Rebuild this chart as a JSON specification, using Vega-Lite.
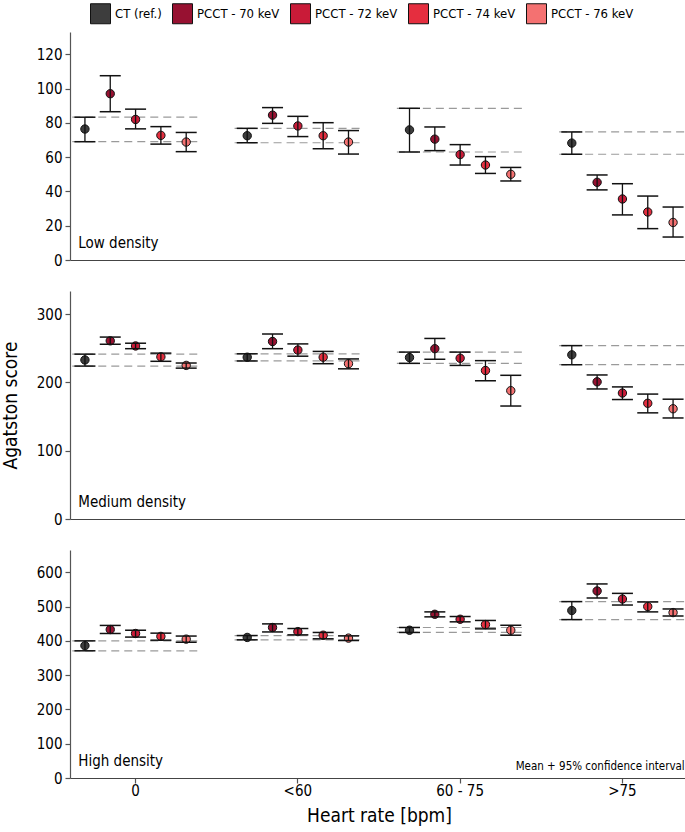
{
  "$schema": "https://vega.github.io/schema/vega-lite/v6.json",
  "padding": {"left": 1, "top": 3, "right": 0, "bottom": 4},
  "background": "white",
  "datasets": {
    "scores": [
      {"d": "Low", "hr": "0", "s": "CT (ref.)", "m": 76.4, "lo": 69, "hi": 83.3},
      {"d": "Low", "hr": "0", "s": "PCCT - 70 keV", "m": 97, "lo": 86.5, "hi": 107.5},
      {"d": "Low", "hr": "0", "s": "PCCT - 72 keV", "m": 82, "lo": 76.5, "hi": 88},
      {"d": "Low", "hr": "0", "s": "PCCT - 74 keV", "m": 72.7, "lo": 67.6, "hi": 77.8},
      {"d": "Low", "hr": "0", "s": "PCCT - 76 keV", "m": 68.8, "lo": 63.2, "hi": 74.4},
      {"d": "Low", "hr": "<60", "s": "CT (ref.)", "m": 72.5, "lo": 68.4, "hi": 76.8},
      {"d": "Low", "hr": "<60", "s": "PCCT - 70 keV", "m": 84.5, "lo": 79.7, "hi": 88.9},
      {"d": "Low", "hr": "<60", "s": "PCCT - 72 keV", "m": 78.2, "lo": 72, "hi": 83.8},
      {"d": "Low", "hr": "<60", "s": "PCCT - 74 keV", "m": 72.5, "lo": 64.9, "hi": 80.1},
      {"d": "Low", "hr": "<60", "s": "PCCT - 76 keV", "m": 68.8, "lo": 61.8, "hi": 75.5},
      {"d": "Low", "hr": "60 - 75", "s": "CT (ref.)", "m": 75.9, "lo": 63, "hi": 88.5},
      {"d": "Low", "hr": "60 - 75", "s": "PCCT - 70 keV", "m": 70.5, "lo": 63.8, "hi": 77.6},
      {"d": "Low", "hr": "60 - 75", "s": "PCCT - 72 keV", "m": 61.5, "lo": 55.4, "hi": 67.3},
      {"d": "Low", "hr": "60 - 75", "s": "PCCT - 74 keV", "m": 55.4, "lo": 50.5, "hi": 60.3},
      {"d": "Low", "hr": "60 - 75", "s": "PCCT - 76 keV", "m": 50, "lo": 46.1, "hi": 54},
      {"d": "Low", "hr": ">75", "s": "CT (ref.)", "m": 68.2, "lo": 61.7, "hi": 74.7},
      {"d": "Low", "hr": ">75", "s": "PCCT - 70 keV", "m": 45.3, "lo": 40.9, "hi": 49.6},
      {"d": "Low", "hr": ">75", "s": "PCCT - 72 keV", "m": 35.6, "lo": 26.3, "hi": 44.5},
      {"d": "Low", "hr": ">75", "s": "PCCT - 74 keV", "m": 28, "lo": 18.3, "hi": 37.3},
      {"d": "Low", "hr": ">75", "s": "PCCT - 76 keV", "m": 21.9, "lo": 13.4, "hi": 30.9},
      {"d": "Medium", "hr": "0", "s": "CT (ref.)", "m": 233, "lo": 224, "hi": 241.5},
      {"d": "Medium", "hr": "0", "s": "PCCT - 70 keV", "m": 261, "lo": 256, "hi": 266.5},
      {"d": "Medium", "hr": "0", "s": "PCCT - 72 keV", "m": 253.5, "lo": 249.5, "hi": 257.5},
      {"d": "Medium", "hr": "0", "s": "PCCT - 74 keV", "m": 237.5, "lo": 231, "hi": 243},
      {"d": "Medium", "hr": "0", "s": "PCCT - 76 keV", "m": 225, "lo": 221, "hi": 228.5},
      {"d": "Medium", "hr": "<60", "s": "CT (ref.)", "m": 237, "lo": 231.5, "hi": 242},
      {"d": "Medium", "hr": "<60", "s": "PCCT - 70 keV", "m": 260, "lo": 249.5, "hi": 271},
      {"d": "Medium", "hr": "<60", "s": "PCCT - 72 keV", "m": 247.5, "lo": 238.5, "hi": 256.5},
      {"d": "Medium", "hr": "<60", "s": "PCCT - 74 keV", "m": 237, "lo": 227.5, "hi": 245.5},
      {"d": "Medium", "hr": "<60", "s": "PCCT - 76 keV", "m": 227.5, "lo": 220, "hi": 234.5},
      {"d": "Medium", "hr": "60 - 75", "s": "CT (ref.)", "m": 236.5, "lo": 228, "hi": 244.5},
      {"d": "Medium", "hr": "60 - 75", "s": "PCCT - 70 keV", "m": 249.5, "lo": 234, "hi": 264.5},
      {"d": "Medium", "hr": "60 - 75", "s": "PCCT - 72 keV", "m": 235.5, "lo": 225, "hi": 244.5},
      {"d": "Medium", "hr": "60 - 75", "s": "PCCT - 74 keV", "m": 217.5, "lo": 202.5, "hi": 232},
      {"d": "Medium", "hr": "60 - 75", "s": "PCCT - 76 keV", "m": 188, "lo": 165.5, "hi": 210.5},
      {"d": "Medium", "hr": ">75", "s": "CT (ref.)", "m": 240.5, "lo": 226, "hi": 254},
      {"d": "Medium", "hr": ">75", "s": "PCCT - 70 keV", "m": 201, "lo": 190.5, "hi": 211},
      {"d": "Medium", "hr": ">75", "s": "PCCT - 72 keV", "m": 184.5, "lo": 175, "hi": 193.5},
      {"d": "Medium", "hr": ">75", "s": "PCCT - 74 keV", "m": 169.5, "lo": 155.5, "hi": 183},
      {"d": "Medium", "hr": ">75", "s": "PCCT - 76 keV", "m": 161.5, "lo": 148, "hi": 175.5},
      {"d": "High", "hr": "0", "s": "CT (ref.)", "m": 386, "lo": 371, "hi": 400},
      {"d": "High", "hr": "0", "s": "PCCT - 70 keV", "m": 433, "lo": 421.5, "hi": 445},
      {"d": "High", "hr": "0", "s": "PCCT - 72 keV", "m": 421.5, "lo": 411, "hi": 431},
      {"d": "High", "hr": "0", "s": "PCCT - 74 keV", "m": 413, "lo": 402, "hi": 422.5},
      {"d": "High", "hr": "0", "s": "PCCT - 76 keV", "m": 405, "lo": 396, "hi": 414},
      {"d": "High", "hr": "<60", "s": "CT (ref.)", "m": 410, "lo": 403, "hi": 415.5},
      {"d": "High", "hr": "<60", "s": "PCCT - 70 keV", "m": 439, "lo": 426, "hi": 449.5},
      {"d": "High", "hr": "<60", "s": "PCCT - 72 keV", "m": 427, "lo": 417.5, "hi": 436},
      {"d": "High", "hr": "<60", "s": "PCCT - 74 keV", "m": 416.5, "lo": 406, "hi": 424.5},
      {"d": "High", "hr": "<60", "s": "PCCT - 76 keV", "m": 408, "lo": 401, "hi": 414.5},
      {"d": "High", "hr": "60 - 75", "s": "CT (ref.)", "m": 431, "lo": 424.5, "hi": 439},
      {"d": "High", "hr": "60 - 75", "s": "PCCT - 70 keV", "m": 477.5, "lo": 470, "hi": 484.5},
      {"d": "High", "hr": "60 - 75", "s": "PCCT - 72 keV", "m": 463, "lo": 455.5, "hi": 471},
      {"d": "High", "hr": "60 - 75", "s": "PCCT - 74 keV", "m": 447.5, "lo": 435, "hi": 459.5},
      {"d": "High", "hr": "60 - 75", "s": "PCCT - 76 keV", "m": 431, "lo": 416.5, "hi": 445.5},
      {"d": "High", "hr": ">75", "s": "CT (ref.)", "m": 488.5, "lo": 462, "hi": 514.5},
      {"d": "High", "hr": ">75", "s": "PCCT - 70 keV", "m": 545.5, "lo": 525, "hi": 566},
      {"d": "High", "hr": ">75", "s": "PCCT - 72 keV", "m": 522, "lo": 504.5, "hi": 538.5},
      {"d": "High", "hr": ">75", "s": "PCCT - 74 keV", "m": 500, "lo": 484.5, "hi": 513.5},
      {"d": "High", "hr": ">75", "s": "PCCT - 76 keV", "m": 482.5, "lo": 472.5, "hi": 493}
    ]
  },
  "spacing": 31,
  "bounds": "flush",
  "vconcat": [
    {
      "width": 618,
      "height": 228,
      "layer": [
        {
          "data": {"name": "scores"},
          "transform": [{"filter": "datum.d == 'Low' && datum.s == 'CT (ref.)'"}],
          "mark": {"type": "rule", "color": "#9a9a9a", "strokeWidth": 1.2, "strokeDash": [8, 5]},
          "encoding": {
            "x": {"field": "hr", "type": "nominal", "sort": ["0", "<60", "60 - 75", ">75"], "bandPosition": 0, "scale": {"paddingInner": 0.22, "paddingOuter": 0.014}, "axis": {"labels": false, "ticks": false, "title": null}},
            "x2": {"field": "hr", "bandPosition": 1},
            "y": {"field": "lo", "type": "quantitative", "scale": {"domain": [0, 133], "nice": false}, "axis": {"values": [0, 20, 40, 60, 80, 100, 120], "title": null}}
          }
        },
        {
          "data": {"name": "scores"},
          "transform": [{"filter": "datum.d == 'Low' && datum.s == 'CT (ref.)'"}],
          "mark": {"type": "rule", "color": "#9a9a9a", "strokeWidth": 1.2, "strokeDash": [8, 5]},
          "encoding": {
            "x": {"field": "hr", "type": "nominal", "sort": ["0", "<60", "60 - 75", ">75"], "bandPosition": 0},
            "x2": {"field": "hr", "bandPosition": 1},
            "y": {"field": "hi", "type": "quantitative", "axis": {"values": [0, 20, 40, 60, 80, 100, 120], "title": null}}
          }
        },
        {
          "data": {"name": "scores"},
          "transform": [{"filter": "datum.d == 'Low'"}],
          "mark": {"type": "point", "filled": true, "opacity": 1, "size": 70, "stroke": "#111", "strokeWidth": 1},
          "encoding": {
            "x": {"field": "hr", "type": "nominal", "sort": ["0", "<60", "60 - 75", ">75"]},
            "xOffset": {"field": "s", "type": "nominal", "sort": ["CT (ref.)", "PCCT - 70 keV", "PCCT - 72 keV", "PCCT - 74 keV", "PCCT - 76 keV"], "scale": {"paddingInner": 0, "paddingOuter": 0}},
            "y": {"field": "m", "type": "quantitative", "axis": {"values": [0, 20, 40, 60, 80, 100, 120], "title": null}},
            "fill": {"field": "s", "type": "nominal", "sort": ["CT (ref.)", "PCCT - 70 keV", "PCCT - 72 keV", "PCCT - 74 keV", "PCCT - 76 keV"], "scale": {"range": ["#3d3d3d", "#971131", "#c91b38", "#e52e3f", "#f47171"]}, "title": null,
              "legend": {"orient": "none", "legendX": 20, "legendY": -29, "direction": "horizontal", "symbolType": "square", "symbolSize": 400, "symbolStrokeColor": "#333", "symbolStrokeWidth": 1, "symbolOpacity": 1, "labelFontSize": 13, "labelOffset": 4, "columnPadding": 8, "labelColor": "#000"}}
          }
        },
        {
          "data": {"name": "scores"},
          "transform": [{"filter": "datum.d == 'Low'"}],
          "mark": {"type": "rule", "color": "#111", "strokeWidth": 1.3},
          "encoding": {
            "x": {"field": "hr", "type": "nominal", "sort": ["0", "<60", "60 - 75", ">75"]},
            "xOffset": {"field": "s", "type": "nominal", "sort": ["CT (ref.)", "PCCT - 70 keV", "PCCT - 72 keV", "PCCT - 74 keV", "PCCT - 76 keV"]},
            "y": {"field": "lo", "type": "quantitative", "axis": {"values": [0, 20, 40, 60, 80, 100, 120], "title": null}},
            "y2": {"field": "hi"}
          }
        },
        {
          "data": {"name": "scores"},
          "transform": [{"filter": "datum.d == 'Low'"}],
          "mark": {"type": "tick", "color": "#111", "size": 21, "thickness": 1.5, "opacity": 1},
          "encoding": {
            "x": {"field": "hr", "type": "nominal", "sort": ["0", "<60", "60 - 75", ">75"]},
            "xOffset": {"field": "s", "type": "nominal", "sort": ["CT (ref.)", "PCCT - 70 keV", "PCCT - 72 keV", "PCCT - 74 keV", "PCCT - 76 keV"]},
            "y": {"field": "lo", "type": "quantitative", "axis": {"values": [0, 20, 40, 60, 80, 100, 120], "title": null}}
          }
        },
        {
          "data": {"name": "scores"},
          "transform": [{"filter": "datum.d == 'Low'"}],
          "mark": {"type": "tick", "color": "#111", "size": 21, "thickness": 1.5, "opacity": 1},
          "encoding": {
            "x": {"field": "hr", "type": "nominal", "sort": ["0", "<60", "60 - 75", ">75"]},
            "xOffset": {"field": "s", "type": "nominal", "sort": ["CT (ref.)", "PCCT - 70 keV", "PCCT - 72 keV", "PCCT - 74 keV", "PCCT - 76 keV"]},
            "y": {"field": "hi", "type": "quantitative", "axis": {"values": [0, 20, 40, 60, 80, 100, 120], "title": null}}
          }
        },
        {
          "data": {"values": [{"t": "Low density"}]},
          "mark": {"type": "text", "align": "left", "baseline": "alphabetic", "fontSize": 15, "dx": 6, "dy": -12, "color": "#000"},
          "encoding": {
            "x": {"datum": "0", "bandPosition": 0},
            "y": {"datum": 0, "axis": {"values": [0, 20, 40, 60, 80, 100, 120], "title": null}},
            "text": {"field": "t"}
          }
        }
      ]
    },
    {
      "width": 618,
      "height": 228,
      "layer": [
        {
          "data": {"name": "scores"},
          "transform": [{"filter": "datum.d == 'Medium' && datum.s == 'CT (ref.)'"}],
          "mark": {"type": "rule", "color": "#9a9a9a", "strokeWidth": 1.2, "strokeDash": [8, 5]},
          "encoding": {
            "x": {"field": "hr", "type": "nominal", "sort": ["0", "<60", "60 - 75", ">75"], "bandPosition": 0, "scale": {"paddingInner": 0.22, "paddingOuter": 0.014}, "axis": {"labels": false, "ticks": false, "title": null}},
            "x2": {"field": "hr", "bandPosition": 1},
            "y": {"field": "lo", "type": "quantitative", "scale": {"domain": [0, 334], "nice": false}, "axis": {"values": [0, 100, 200, 300], "title": "Agatston score", "titleFontSize": 19, "titleFontWeight": "normal", "titlePadding": 16, "titleColor": "#000"}}
          }
        },
        {
          "data": {"name": "scores"},
          "transform": [{"filter": "datum.d == 'Medium' && datum.s == 'CT (ref.)'"}],
          "mark": {"type": "rule", "color": "#9a9a9a", "strokeWidth": 1.2, "strokeDash": [8, 5]},
          "encoding": {
            "x": {"field": "hr", "type": "nominal", "sort": ["0", "<60", "60 - 75", ">75"], "bandPosition": 0},
            "x2": {"field": "hr", "bandPosition": 1},
            "y": {"field": "hi", "type": "quantitative", "axis": {"values": [0, 100, 200, 300], "title": "Agatston score"}}
          }
        },
        {
          "data": {"name": "scores"},
          "transform": [{"filter": "datum.d == 'Medium'"}],
          "mark": {"type": "point", "filled": true, "opacity": 1, "size": 70, "stroke": "#111", "strokeWidth": 1},
          "encoding": {
            "x": {"field": "hr", "type": "nominal", "sort": ["0", "<60", "60 - 75", ">75"]},
            "xOffset": {"field": "s", "type": "nominal", "sort": ["CT (ref.)", "PCCT - 70 keV", "PCCT - 72 keV", "PCCT - 74 keV", "PCCT - 76 keV"], "scale": {"paddingInner": 0, "paddingOuter": 0}},
            "y": {"field": "m", "type": "quantitative", "axis": {"values": [0, 100, 200, 300], "title": "Agatston score"}},
            "fill": {"field": "s", "type": "nominal", "sort": ["CT (ref.)", "PCCT - 70 keV", "PCCT - 72 keV", "PCCT - 74 keV", "PCCT - 76 keV"], "title": null}
          }
        },
        {
          "data": {"name": "scores"},
          "transform": [{"filter": "datum.d == 'Medium'"}],
          "mark": {"type": "rule", "color": "#111", "strokeWidth": 1.3},
          "encoding": {
            "x": {"field": "hr", "type": "nominal", "sort": ["0", "<60", "60 - 75", ">75"]},
            "xOffset": {"field": "s", "type": "nominal", "sort": ["CT (ref.)", "PCCT - 70 keV", "PCCT - 72 keV", "PCCT - 74 keV", "PCCT - 76 keV"]},
            "y": {"field": "lo", "type": "quantitative", "axis": {"values": [0, 100, 200, 300], "title": "Agatston score"}},
            "y2": {"field": "hi"}
          }
        },
        {
          "data": {"name": "scores"},
          "transform": [{"filter": "datum.d == 'Medium'"}],
          "mark": {"type": "tick", "color": "#111", "size": 21, "thickness": 1.5, "opacity": 1},
          "encoding": {
            "x": {"field": "hr", "type": "nominal", "sort": ["0", "<60", "60 - 75", ">75"]},
            "xOffset": {"field": "s", "type": "nominal", "sort": ["CT (ref.)", "PCCT - 70 keV", "PCCT - 72 keV", "PCCT - 74 keV", "PCCT - 76 keV"]},
            "y": {"field": "lo", "type": "quantitative", "axis": {"values": [0, 100, 200, 300], "title": "Agatston score"}}
          }
        },
        {
          "data": {"name": "scores"},
          "transform": [{"filter": "datum.d == 'Medium'"}],
          "mark": {"type": "tick", "color": "#111", "size": 21, "thickness": 1.5, "opacity": 1},
          "encoding": {
            "x": {"field": "hr", "type": "nominal", "sort": ["0", "<60", "60 - 75", ">75"]},
            "xOffset": {"field": "s", "type": "nominal", "sort": ["CT (ref.)", "PCCT - 70 keV", "PCCT - 72 keV", "PCCT - 74 keV", "PCCT - 76 keV"]},
            "y": {"field": "hi", "type": "quantitative", "axis": {"values": [0, 100, 200, 300], "title": "Agatston score"}}
          }
        },
        {
          "data": {"values": [{"t": "Medium density"}]},
          "mark": {"type": "text", "align": "left", "baseline": "alphabetic", "fontSize": 15, "dx": 6, "dy": -12, "color": "#000"},
          "encoding": {
            "x": {"datum": "0", "bandPosition": 0},
            "y": {"datum": 0, "axis": {"values": [0, 100, 200, 300], "title": "Agatston score"}},
            "text": {"field": "t"}
          }
        }
      ]
    },
    {
      "width": 618,
      "height": 228,
      "layer": [
        {
          "data": {"name": "scores"},
          "transform": [{"filter": "datum.d == 'High' && datum.s == 'CT (ref.)'"}],
          "mark": {"type": "rule", "color": "#9a9a9a", "strokeWidth": 1.2, "strokeDash": [8, 5]},
          "encoding": {
            "x": {"field": "hr", "type": "nominal", "sort": ["0", "<60", "60 - 75", ">75"], "bandPosition": 0, "scale": {"paddingInner": 0.22, "paddingOuter": 0.014}, "axis": {"labelAngle": 0, "labelFontSize": 15, "labelPadding": 0, "title": "Heart rate [bpm]", "titleFontSize": 19, "titleFontWeight": "normal", "titlePadding": 8, "titleColor": "#000"}},
            "x2": {"field": "hr", "bandPosition": 1},
            "y": {"field": "lo", "type": "quantitative", "scale": {"domain": [0, 665], "nice": false}, "axis": {"values": [0, 100, 200, 300, 400, 500, 600], "title": null}}
          }
        },
        {
          "data": {"name": "scores"},
          "transform": [{"filter": "datum.d == 'High' && datum.s == 'CT (ref.)'"}],
          "mark": {"type": "rule", "color": "#9a9a9a", "strokeWidth": 1.2, "strokeDash": [8, 5]},
          "encoding": {
            "x": {"field": "hr", "type": "nominal", "sort": ["0", "<60", "60 - 75", ">75"], "bandPosition": 0},
            "x2": {"field": "hr", "bandPosition": 1},
            "y": {"field": "hi", "type": "quantitative", "axis": {"values": [0, 100, 200, 300, 400, 500, 600], "title": null}}
          }
        },
        {
          "data": {"name": "scores"},
          "transform": [{"filter": "datum.d == 'High'"}],
          "mark": {"type": "point", "filled": true, "opacity": 1, "size": 70, "stroke": "#111", "strokeWidth": 1},
          "encoding": {
            "x": {"field": "hr", "type": "nominal", "sort": ["0", "<60", "60 - 75", ">75"]},
            "xOffset": {"field": "s", "type": "nominal", "sort": ["CT (ref.)", "PCCT - 70 keV", "PCCT - 72 keV", "PCCT - 74 keV", "PCCT - 76 keV"], "scale": {"paddingInner": 0, "paddingOuter": 0}},
            "y": {"field": "m", "type": "quantitative", "axis": {"values": [0, 100, 200, 300, 400, 500, 600], "title": null}},
            "fill": {"field": "s", "type": "nominal", "sort": ["CT (ref.)", "PCCT - 70 keV", "PCCT - 72 keV", "PCCT - 74 keV", "PCCT - 76 keV"], "title": null}
          }
        },
        {
          "data": {"name": "scores"},
          "transform": [{"filter": "datum.d == 'High'"}],
          "mark": {"type": "rule", "color": "#111", "strokeWidth": 1.3},
          "encoding": {
            "x": {"field": "hr", "type": "nominal", "sort": ["0", "<60", "60 - 75", ">75"]},
            "xOffset": {"field": "s", "type": "nominal", "sort": ["CT (ref.)", "PCCT - 70 keV", "PCCT - 72 keV", "PCCT - 74 keV", "PCCT - 76 keV"]},
            "y": {"field": "lo", "type": "quantitative", "axis": {"values": [0, 100, 200, 300, 400, 500, 600], "title": null}},
            "y2": {"field": "hi"}
          }
        },
        {
          "data": {"name": "scores"},
          "transform": [{"filter": "datum.d == 'High'"}],
          "mark": {"type": "tick", "color": "#111", "size": 21, "thickness": 1.5, "opacity": 1},
          "encoding": {
            "x": {"field": "hr", "type": "nominal", "sort": ["0", "<60", "60 - 75", ">75"]},
            "xOffset": {"field": "s", "type": "nominal", "sort": ["CT (ref.)", "PCCT - 70 keV", "PCCT - 72 keV", "PCCT - 74 keV", "PCCT - 76 keV"]},
            "y": {"field": "lo", "type": "quantitative", "axis": {"values": [0, 100, 200, 300, 400, 500, 600], "title": null}}
          }
        },
        {
          "data": {"name": "scores"},
          "transform": [{"filter": "datum.d == 'High'"}],
          "mark": {"type": "tick", "color": "#111", "size": 21, "thickness": 1.5, "opacity": 1},
          "encoding": {
            "x": {"field": "hr", "type": "nominal", "sort": ["0", "<60", "60 - 75", ">75"]},
            "xOffset": {"field": "s", "type": "nominal", "sort": ["CT (ref.)", "PCCT - 70 keV", "PCCT - 72 keV", "PCCT - 74 keV", "PCCT - 76 keV"]},
            "y": {"field": "hi", "type": "quantitative", "axis": {"values": [0, 100, 200, 300, 400, 500, 600], "title": null}}
          }
        },
        {
          "data": {"values": [{"t": "High density"}]},
          "mark": {"type": "text", "align": "left", "baseline": "alphabetic", "fontSize": 15, "dx": 6, "dy": -12, "color": "#000"},
          "encoding": {
            "x": {"datum": "0", "bandPosition": 0},
            "y": {"datum": 0, "axis": {"values": [0, 100, 200, 300, 400, 500, 600], "title": null}},
            "text": {"field": "t"}
          }
        },
        {
          "data": {"values": [{"t": "Mean + 95% confidence interval"}]},
          "mark": {"type": "text", "align": "right", "baseline": "alphabetic", "fontSize": 11.5, "dx": -1, "dy": -8, "color": "#000"},
          "encoding": {
            "x": {"datum": ">75", "bandPosition": 1},
            "y": {"datum": 0, "axis": {"values": [0, 100, 200, 300, 400, 500, 600], "title": null}},
            "text": {"field": "t"}
          }
        }
      ]
    }
  ],
  "config": {
    "font": "Liberation Sans Narrow, DejaVu Sans Condensed, Roboto, sans-serif",
    "view": {"stroke": null},
    "axis": {"grid": false, "labelFontSize": 15, "labelColor": "#000", "labelOverlap": false, "domainColor": "#555", "domainWidth": 1.2, "tickColor": "#555", "tickSize": 5, "tickWidth": 1.2, "labelPadding": 3},
    "axisX": {"domainColor": "#444"}
  }
}
